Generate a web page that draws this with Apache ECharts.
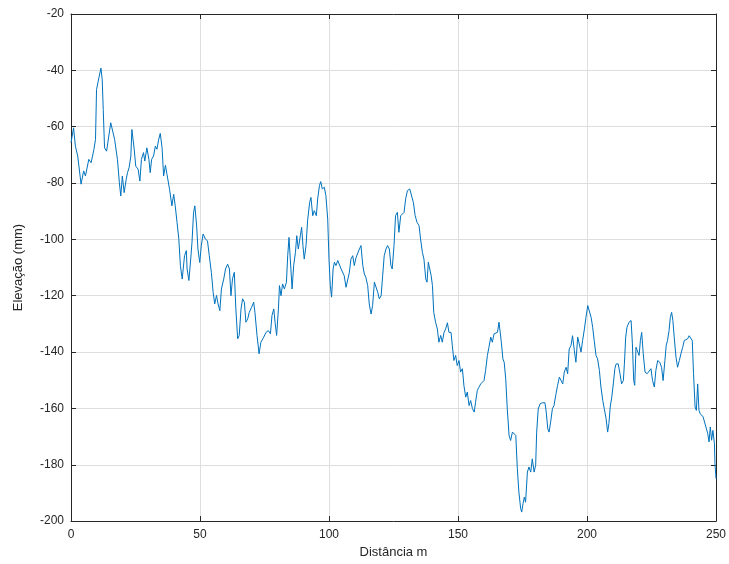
<!DOCTYPE html>
<html>
<head>
<meta charset="utf-8">
<script src="https://cdn.jsdelivr.net/npm/echarts@6/dist/echarts.min.js"></script>
<style>
  html, body { margin: 0; padding: 0; background: #fff; }
  #chart { width: 729px; height: 564px; }
</style>
</head>
<body>
<div id="chart"></div>
<script>
// Elevation profile along the surveyed line
const distance = [
  0, 1, 1.7, 2.6, 3.9, 4.9, 5.6, 6.9, 7.8, 8.9, 9.5, 9.9, 10.8, 11.6, 12.1, 12.5, 13, 13.8, 14.5, 15.4,
  16, 16.9, 18, 18.75, 19.3, 19.9, 20.6, 21.4, 21.9, 22.5, 23.2, 23.6, 24.1, 24.5, 25.1, 26, 26.7, 27.3, 28.1, 28.6,
  29.4, 30.2, 30.7, 31.25, 32, 32.7, 33.3, 34, 34.6, 35.3, 35.9, 36.6, 37.2, 38.2, 39.1, 39.8, 40.4, 41.1, 41.8, 42.4,
  43.1, 44, 44.7, 45, 45.7, 46.4, 46.9, 47.5, 48, 48.7, 49.2, 49.9, 50.5, 51.2, 52.1, 52.9, 53.6, 54.4, 55.1, 55.7,
  56.4, 57, 57.7, 58.3, 59.2, 59.9, 60.7, 61.4, 62, 62.6, 63.3, 63.9, 64.6, 65.2, 65.9, 66.5, 67.2, 67.8, 68.5, 69.1,
  70, 70.8, 71.3, 72.1, 72.9, 73.6, 74.7, 75.6, 76.5, 77.3, 77.9, 78.6, 79.1, 79.7, 80.4, 80.8, 81.4, 82, 82.7, 83.5,
  84, 84.5, 85, 85.7, 86.3, 87, 87.5, 88.1, 88.9, 89.4, 89.9, 90.4, 91.1, 91.7, 92.5, 93, 93.7, 94.3, 95.1, 95.6,
  96.3, 96.8, 97.4, 98.2, 98.8, 99.5, 100, 100.5, 101, 101.6, 102.1, 102.7, 103.4, 104, 104.7, 105.4, 105.9, 106.6, 107.2, 107.9,
  108.5, 109.2, 109.8, 110.5, 111.1, 111.8, 112.4, 113.1, 113.7, 114.3, 115, 115.6, 116.3, 116.9, 117.6, 118.2, 118.9, 119.5, 120.2, 120.8,
  121.4, 122.1, 122.7, 123.4, 124, 124.5, 125.2, 125.8, 126.5, 127.1, 127.8, 128.4, 129.1, 129.7, 130.4, 131.3, 132, 132.7, 133.4, 134.1,
  134.9, 135.5, 136.2, 136.8, 137.5, 138, 138.5, 139, 139.6, 140.1, 140.6, 141.3, 142, 142.6, 143.3, 143.9, 144.6, 145.2, 145.9, 146.5,
  147.3, 147.8, 148.4, 149.1, 149.7, 150.4, 151, 151.7, 152.3, 153, 153.6, 154.3, 154.9, 155.6, 156.3, 156.8, 157.5, 158.1, 158.8, 159.4,
  160.1, 160.7, 161.4, 162, 162.7, 163.3, 164, 164.6, 165.3, 165.9, 166.4, 166.8, 167.4, 167.9, 168.5, 168.9, 169.1, 169.8, 170.4, 171.1,
  171.8, 172.4, 173, 173.6, 174.3, 174.7, 175.2, 175.7, 176.2, 176.9, 177.5, 178.2, 178.8, 179.5, 180.1, 180.5, 181.1, 181.8, 182.7, 183.7,
  184.2, 184.8, 185.3, 185.9, 186.6, 187.2, 188, 188.6, 189.3, 189.9, 190.6, 191.2, 191.9, 192.5, 193.1, 193.8, 194.4, 195.1, 195.7, 196.4,
  197, 197.7, 198.3, 199, 199.6, 200.3, 200.9, 201.6, 202.2, 202.8, 203.5, 204.1, 204.8, 205.4, 206.1, 206.7, 207.4, 208, 208.5, 209,
  209.6, 210.2, 210.8, 211.3, 212.1, 212.8, 213.4, 214.1, 214.5, 215, 215.5, 216.3, 217.1, 217.6, 218.1, 218.5, 219, 219.6, 220.2, 220.7,
  221.2, 221.8, 222.5, 223.3, 224, 224.8, 225.4, 226.1, 226.7, 227.4, 228.2, 228.9, 229.5, 230.2, 230.7, 231.2, 231.8, 232.3, 232.8, 233.3,
  233.8, 234.5, 235.1, 235.8, 236.4, 237.1, 237.7, 238.3, 239, 239.6, 240.3, 240.8, 241.3, 241.9, 242.4, 242.9, 243.4, 243.9, 244.4, 245,
  245.5, 246.1, 246.8, 247.3, 247.8, 248.3, 248.8, 249.4, 249.6, 250
];

const elevation = [
  -65.7, -60.4, -66.9, -70.4, -80.4, -75.7, -77.5, -71.6, -72.8, -68, -64.5, -46.8, -42.7, -39.2, -43.3, -53.9, -67.5, -68.7, -68, -58.6,
  -59.2, -64.5, -71.6, -79.9, -84.6, -77.5, -83.4, -78.7, -76.3, -74.6, -70.4, -61, -60.4, -68, -74, -75.1, -79.3, -71.6, -69.2, -72.2,
  -67.5, -71.6, -76.3, -71.6, -70.4, -66.9, -68, -64.5, -62.4, -67.5, -77.5, -73.7, -76.9, -82.2, -88.1, -84, -88.1, -94, -99.9, -109.3,
  -114.1, -105.8, -104, -110.5, -114.6, -107, -101.1, -90.5, -88.1, -95.2, -103.4, -108.2, -102.3, -98.1, -99.9, -100.5, -105.8, -111.7, -118.8, -122.9,
  -119.9, -122.9, -125.3, -117.6, -114.1, -110.5, -108.8, -110.5, -120, -114, -111.7, -124.7, -135.3, -134.1, -124.7, -121.1, -122.3, -129.4, -128.2, -125.9,
  -124.1, -122.3, -125.9, -134.1, -140.6, -136.5, -134.7, -133, -132.4, -133.5, -127, -124.7, -129.4, -134.1, -124.7, -116.4, -120, -115.8, -117.6, -115.2,
  -105.8, -99.3, -107, -117.6, -109.3, -104.6, -98.7, -103.4, -98.7, -95.7, -102.2, -107, -102.2, -93.4, -86.9, -85.1, -91.6, -89.8, -91.6, -85.7,
  -80.9, -79.5, -82.1, -81.5, -84.5, -92.8, -107, -116.4, -120.5, -110.5, -108.1, -109.3, -107.5, -107, -110.5, -110.5, -112.9, -117, -117.6, -111.7,
  -107, -105.8, -109.3, -106.4, -107, -103.4, -102.2, -109.3, -112.3, -113.5, -116.4, -122.9, -126.5, -123.5, -115.2, -114.6, -118.8, -121.1, -120, -112.9,
  -105.8, -103.4, -102.2, -103.4, -109.3, -110.5, -102.2, -91.6, -90.4, -97.5, -91.6, -91, -90.4, -85.7, -82.7, -82.1, -82.7, -86.9, -91.6, -93.9,
  -95.1, -99.9, -104.6, -107, -114, -115.2, -108.1, -107.5, -112.9, -116.4, -125.9, -129.4, -131.8, -136.5, -134.1, -136.5, -133, -131.8, -129.6, -133,
  -133, -137.7, -143, -141.2, -144.8, -143, -147.1, -145.9, -151.9, -156, -154.2, -159, -157.2, -160.1, -161.3, -157.8, -153.6, -152.5, -151.3, -150.7,
  -150.1, -146.5, -141.2, -138.3, -134.7, -136.5, -133.5, -134.1, -133, -129.4, -128.8, -136.5, -142.4, -143.6, -149.5, -156.6, -160.1, -169.6, -171.4, -168.4,
  -168.2, -169.6, -181.4, -189.7, -195.6, -196.8, -193.8, -191.5, -193.3, -182.6, -180.8, -182.6, -177.9, -182.6, -180.2, -168.4, -160.2, -158.4, -158, -158,
  -161.3, -167.2, -168.4, -164.9, -160.1, -159, -154.8, -151.8, -148.9, -148.3, -151.3, -147.1, -145.4, -147.7, -138.9, -137.7, -134.2, -139.5, -143.6, -134.7,
  -134.2, -140, -135.9, -131.8, -127.7, -123.5, -123.9, -127.7, -131.2, -135.9, -141.2, -142.4, -146.5, -152.4, -157.1, -160.1, -163.6, -168.4, -165.4, -159.5,
  -156, -151.3, -145.9, -144.2, -144.2, -147.7, -151.3, -150.1, -144.2, -134.7, -131.2, -129.4, -128.8, -137.1, -150.1, -151.8, -138.3, -137.7, -141.2, -135.9,
  -133, -140.6, -147.1, -147.7, -147.1, -145.9, -150.1, -152.4, -146.5, -143, -143.6, -145.4, -150.1, -143, -137.7, -135.9, -132.4, -127.7, -125.9, -128.8,
  -134.7, -141.8, -145.4, -143, -140.6, -138.3, -135.9, -135.7, -135.3, -134.2, -133.6, -135.9, -147.7, -159.5, -160.7, -151.3, -160.7, -161.9, -161.3, -163,
  -163.6, -166.6, -168.9, -171.9, -166.6, -171.3, -167.8, -172.5, -179.6, -184.9
];

// Axis ranges and ticks
const xRange = [0, 250];
const xStep = 50;
const yRange = [-200, -20];
const yStep = 20;

const axisText = '#262626';
const textFont = '"Liberation Sans", "DejaVu Sans", sans-serif';

const profile = distance.map((d, i) => [d, elevation[i]]);

const chart = echarts.init(document.getElementById('chart'), null, { renderer: 'canvas' });

const frameLine = { show: true, onZero: false, lineStyle: { color: axisText, width: 1 } };
const innerTick = { show: true, inside: true, length: 5, lineStyle: { color: axisText, width: 1 } };

chart.setOption({
  animation: false,
  backgroundColor: '#ffffff',
  grid: { left: 71, right: 13, top: 14, bottom: 42, containLabel: false },
  xAxis: [
    {
      type: 'value',
      min: xRange[0], max: xRange[1], interval: xStep,
      position: 'bottom',
      name: 'Distância m',
      nameLocation: 'middle',
      nameGap: 24,
      nameTextStyle: { color: axisText, fontSize: 13, fontFamily: textFont },
      axisLine: frameLine,
      axisTick: innerTick,
      axisLabel: { color: axisText, fontSize: 12, fontFamily: textFont, margin: 8 },
      splitLine: { show: true, lineStyle: { color: '#dedede', width: 1 } }
    },
    {
      type: 'value',
      min: xRange[0], max: xRange[1], interval: xStep,
      position: 'top',
      axisLine: frameLine,
      axisTick: innerTick,
      axisLabel: { show: false },
      splitLine: { show: false }
    }
  ],
  yAxis: [
    {
      type: 'value',
      min: yRange[0], max: yRange[1], interval: yStep,
      position: 'left',
      name: 'Elevação (mm)',
      nameLocation: 'middle',
      nameGap: 46,
      nameRotate: 90,
      nameTextStyle: { color: axisText, fontSize: 13, fontFamily: textFont },
      axisLine: frameLine,
      axisTick: innerTick,
      axisLabel: { color: axisText, fontSize: 12, fontFamily: textFont, margin: 7 },
      splitLine: { show: true, lineStyle: { color: '#dedede', width: 1 } }
    },
    {
      type: 'value',
      min: yRange[0], max: yRange[1], interval: yStep,
      position: 'right',
      axisLine: frameLine,
      axisTick: innerTick,
      axisLabel: { show: false },
      splitLine: { show: false }
    }
  ],
  series: [
    {
      type: 'line',
      data: profile,
      xAxisIndex: 0,
      yAxisIndex: 0,
      showSymbol: false,
      symbol: 'none',
      lineStyle: { color: '#0072BD', width: 1 },
      z: 5
    }
  ]
});
</script>
</body>
</html>
